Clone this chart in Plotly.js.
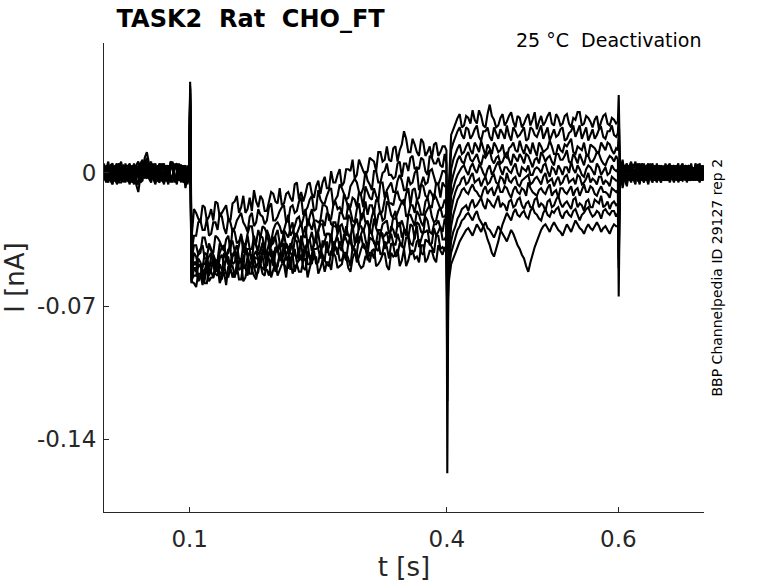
<!DOCTYPE html>
<html>
<head>
<meta charset="utf-8">
<script src="https://cdn.plot.ly/plotly-3.0.1.min.js"></script>
<style>
  html, body { margin: 0; padding: 0; background: #fff; }
  #chart { width: 778px; height: 583px; }
</style>
</head>
<body>
<div id="chart"></div>
<script>
// sample times [s]: 2.5 ms grid plus extra samples around the steps at 0.1, 0.4 and 0.6 s
const tSec = [
  0,0.0025,0.005,0.0075,0.01,0.0125,0.015,0.0175,0.02,0.0225,0.025,0.0275,0.03,0.0325,0.035,0.0375,0.04,0.0425,0.045,0.0475,
  0.05,0.0525,0.055,0.0575,0.06,0.0625,0.065,0.0675,0.07,0.0725,0.075,0.0775,0.08,0.0825,0.085,0.0875,0.09,0.0925,0.095,0.0975,
  0.0995,0.1005,0.102,
  0.105,0.1075,0.11,0.1125,0.115,0.1175,0.12,0.1225,0.125,0.1275,0.13,0.1325,0.135,0.1375,0.14,0.1425,0.145,0.1475,0.15,0.1525,
  0.155,0.1575,0.16,0.1625,0.165,0.1675,0.17,0.1725,0.175,0.1775,0.18,0.1825,0.185,0.1875,0.19,0.1925,0.195,0.1975,0.2,0.2025,
  0.205,0.2075,0.21,0.2125,0.215,0.2175,0.22,0.2225,0.225,0.2275,0.23,0.2325,0.235,0.2375,0.24,0.2425,0.245,0.2475,0.25,0.2525,
  0.255,0.2575,0.26,0.2625,0.265,0.2675,0.27,0.2725,0.275,0.2775,0.28,0.2825,0.285,0.2875,0.29,0.2925,0.295,0.2975,0.3,0.3025,
  0.305,0.3075,0.31,0.3125,0.315,0.3175,0.32,0.3225,0.325,0.3275,0.33,0.3325,0.335,0.3375,0.34,0.3425,0.345,0.3475,0.35,0.3525,
  0.355,0.3575,0.36,0.3625,0.365,0.3675,0.37,0.3725,0.375,0.3775,0.38,0.3825,0.385,0.3875,0.39,0.3925,0.395,0.3975,
  0.3995,0.4005,0.402,
  0.405,0.4075,0.41,0.4125,0.415,0.4175,0.42,0.4225,0.425,0.4275,0.43,0.4325,0.435,0.4375,0.44,0.4425,0.445,0.4475,0.45,0.4525,
  0.455,0.4575,0.46,0.4625,0.465,0.4675,0.47,0.4725,0.475,0.4775,0.48,0.4825,0.485,0.4875,0.49,0.4925,0.495,0.4975,0.5,0.5025,
  0.505,0.5075,0.51,0.5125,0.515,0.5175,0.52,0.5225,0.525,0.5275,0.53,0.5325,0.535,0.5375,0.54,0.5425,0.545,0.5475,0.55,0.5525,
  0.555,0.5575,0.56,0.5625,0.565,0.5675,0.57,0.5725,0.575,0.5775,0.58,0.5825,0.585,0.5875,0.59,0.5925,0.595,0.5975,
  0.5995,0.6005,0.602,
  0.605,0.6075,0.61,0.6125,0.615,0.6175,0.62,0.6225,0.625,0.6275,0.63,0.6325,0.635,0.6375,0.64,0.6425,0.645,0.6475,0.65,0.6525,
  0.655,0.6575,0.66,0.6625,0.665,0.6675,0.67,0.6725,0.675,0.6775,0.68,0.6825,0.685,0.6875,0.69,0.6925,0.695,0.6975,0.7
];

// current sweeps [pA] (plotted in nA)
const sweep1 = [
  3,-3,-2,2,4,-2,-4,3,1,-4,5,1,-3,4,2,-4,-5,3,6,4,
  8,2,-1,4,3,-3,-4,2,5,-3,-2,4,4,-4,-3,3,2,-5,-4,2,
  1,48,-35,
  -19,-21,-24,-26,-17,-18,-25,-23,-19,-25,-15,-16,-23,-21,-19,-17,-24,-25,-16,-15,
  -12,-21,-18,-12,-21,-19,-13,-20,-9,-15,-18,-12,-14,-20,-20,-15,-10,-11,-15,-16,
  -8,-17,-16,-11,-10,-13,-15,-6,-5,-14,-10,-15,-11,-6,-5,-11,-13,-7,-4,-11,
  -5,-2,-8,-8,1,-5,-5,-1,2,-7,-5,2,2,1,7,-3,-1,7,4,1,
  -1,1,8,7,6,1,11,11,6,7,14,7,6,13,14,6,12,15,22,18,
  11,11,18,15,11,9,18,16,9,11,14,8,15,16,9,11,14,14,
  12,-60,-10,
  20,23,26,29,31,24,25,30,29,26,33,28,26,33,30,25,24,31,36,30,
  28,24,25,29,31,25,27,30,32,27,24,30,29,24,26,29,31,25,28,32,
  23,27,30,25,27,30,32,26,25,31,29,25,26,30,31,26,24,29,28,32,
  32,25,26,30,29,27,24,28,30,23,27,30,31,26,25,29,28,26,
  27,41,4,
  6,1,-4,4,3,-3,-6,5,2,-4,5,-1,-2,3,4,-4,-3,4,1,-3,
  5,1,-4,3,2,-4,-2,2,4,-2,-3,4,1,-3,4,2,-2,-4,3
];
const sweep2 = [
  -2,3,4,-4,-5,0,2,-3,-1,4,3,-2,-6,1,4,-4,1,5,7,2,
  -2,3,5,-2,-3,4,2,-4,-5,2,4,-3,-1,4,5,-2,-4,3,1,-5,
  -2,44,-42,
  -33,-33,-26,-25,-30,-30,-24,-33,-32,-26,-26,-30,-21,-23,-29,-32,-24,-26,-31,-29,
  -25,-23,-21,-26,-28,-31,-23,-21,-28,-26,-19,-22,-23,-27,-25,-18,-16,-25,-25,-23,
  -20,-18,-17,-26,-25,-18,-17,-21,-20,-15,-13,-22,-20,-18,-14,-12,-20,-19,-9,-14,
  -16,-16,-12,-9,-8,-17,-14,-12,-6,-8,-11,-14,-13,-7,-5,-3,-5,-10,-11,-8,
  1,-4,-6,-9,1,1,-5,-5,0,1,5,-1,-1,-3,-2,5,6,-2,5,5,
  1,8,9,2,3,2,8,7,1,-1,9,8,5,5,8,4,3,10,
  5,-70,-15,
  12,16,19,22,24,20,18,24,23,18,20,23,25,19,17,22,22,24,19,17,
  24,21,18,23,21,18,25,20,17,24,22,19,20,22,24,17,18,24,23,20,
  19,22,25,18,21,24,17,20,23,19,20,23,24,17,18,21,22,25,19,22,
  25,18,21,24,17,20,23,18,20,23,24,19,18,22,22,25,20,19,
  21,30,2,
  -5,2,3,-4,-2,4,5,-2,-4,3,1,-4,4,-2,-3,4,2,-3,-5,2,
  3,-4,1,4,-3,2,5,-3,-1,4,2,-3,-4,2,3,-4,0,3,-3
];
const sweep3 = [
  1,-3,-5,2,3,-4,0,5,-4,2,4,-3,2,-5,-3,4,6,1,-1,8,
  11,5,3,-2,-4,3,4,-3,1,-4,-3,6,5,-2,-5,2,3,-3,-2,4,
  2,40,-46,
  -38,-38,-43,-42,-34,-34,-39,-39,-41,-42,-33,-34,-36,-39,-41,-35,-33,-41,-29,-31,
  -37,-36,-33,-37,-38,-32,-28,-28,-36,-37,-30,-34,-28,-29,-32,-37,-36,-30,-27,-26,
  -28,-32,-30,-26,-22,-33,-31,-28,-24,-23,-28,-24,-19,-28,-23,-19,-25,-25,-26,-25,
  -17,-17,-18,-25,-24,-17,-15,-19,-18,-21,-11,-14,-19,-18,-13,-14,-18,-10,-12,-18,
  -7,-10,-13,-14,-8,-12,-15,-5,-5,-13,-9,-7,-5,-10,-10,-4,-1,-4,-9,-9,
  -2,-6,-5,0,2,-9,-6,-2,-6,-5,1,2,-2,-6,-6,-3,1,1,
  -1,-158,-30,
  2,7,10,13,15,10,11,14,16,12,10,16,14,11,17,13,9,15,13,10,
  16,14,11,12,15,9,8,13,14,16,12,11,17,13,10,15,13,10,16,12,
  9,16,14,11,12,13,17,14,10,10,15,12,11,15,14,16,18,11,10,14,
  13,12,16,10,9,15,14,13,11,11,16,14,12,16,15,12,10,13,
  12,22,-1,
  2,-3,-7,2,4,-4,0,3,-3,5,3,-2,-5,3,1,-4,5,-3,-2,4,
  -1,-3,4,-2,-4,3,2,-4,1,4,-5,-1,3,2,-1,-4,4,3,-2
];
const sweep4 = [
  -4,3,2,-3,0,4,-6,-2,4,-5,-2,4,3,-4,1,-6,-10,-2,5,0,
  2,-3,-5,1,4,-4,-2,5,3,-2,-6,3,2,-5,1,5,-3,2,4,-3,
  -1,46,-50,
  -48,-48,-42,-40,-38,-45,-45,-37,-40,-43,-46,-46,-37,-39,-39,-43,-42,-36,-36,-41,
  -43,-38,-32,-42,-39,-33,-40,-40,-33,-38,-41,-33,-34,-41,-30,-33,-38,-37,-33,-30,
  -37,-39,-30,-32,-34,-29,-26,-35,-32,-29,-26,-33,-34,-24,-27,-30,-25,-32,-31,-25,
  -25,-28,-21,-22,-27,-28,-28,-29,-21,-21,-24,-24,-16,-20,-25,-26,-19,-16,-25,-22,
  -15,-22,-17,-17,-21,-14,-15,-22,-20,-14,-10,-16,-16,-17,-11,-10,-14,-15,-17,-11,
  -8,-17,-9,-8,-14,-13,-6,-7,-12,-13,-9,-11,-14,-5,-6,-13,-5,-7,
  -7,-90,-32,
  -6,-1,3,7,9,6,5,9,11,7,6,8,10,6,4,9,8,10,12,7,
  5,8,9,5,6,9,11,7,4,10,8,6,10,8,5,10,9,6,3,7,
  8,5,11,9,6,8,9,6,4,10,10,7,7,9,12,6,5,10,8,5,
  10,7,4,9,9,6,6,8,11,10,7,5,4,7,9,8,6,9,
  7,-20,3,
  -8,-2,4,-3,-1,4,3,-2,-6,3,2,-4,0,5,-4,-1,3,-3,4,2,
  -3,-4,2,4,-2,3,-4,-2,3,-4,1,4,-2,-3,5,2,-3,4,1
];
const sweep5 = [
  5,-4,-1,3,-3,2,3,-5,-5,3,1,-3,4,-2,-6,2,3,-4,0,5,
  7,-1,2,4,-2,3,5,-3,-4,4,2,-5,-2,3,4,-2,-5,4,0,-6,
  3,35,-52,
  -42,-44,-49,-49,-50,-42,-43,-51,-44,-44,-50,-48,-42,-39,-38,-45,-46,-47,-43,-41,
  -38,-45,-46,-38,-40,-44,-42,-46,-36,-38,-43,-41,-37,-38,-44,-43,-38,-34,-34,-41,
  -39,-36,-32,-39,-40,-41,-35,-32,-32,-36,-38,-32,-28,-38,-35,-31,-37,-36,-30,-27,
  -27,-33,-32,-32,-35,-26,-26,-32,-28,-27,-31,-33,-22,-24,-30,-27,-24,-30,-22,-21,
  -26,-26,-29,-23,-19,-28,-22,-20,-25,-24,-15,-17,-22,-24,-24,-21,-18,-15,-14,-23,
  -22,-17,-17,-21,-14,-17,-22,-22,-15,-13,-18,-18,-11,-13,-16,-19,-18,-14,
  -16,-65,-35,
  -12,-8,-4,-1,1,3,4,1,-1,3,5,2,0,4,3,0,-2,2,4,-1,
  1,4,6,2,-1,3,3,1,0,3,5,0,-2,3,2,1,4,-1,-1,2,
  3,2,0,4,5,1,-2,3,2,-1,4,2,-1,3,3,0,6,2,0,4,
  2,-1,-2,2,4,3,1,-1,5,3,-1,1,3,-1,0,4,2,1,
  2,-30,-2,
  4,-4,-2,3,6,-2,-3,3,1,-3,-5,2,3,-3,2,-3,-4,2,3,-4,
  -2,3,5,-3,0,4,-3,3,2,-3,-4,3,4,-4,-1,4,2,-2,-4
];
const sweep6 = [
  0,-5,3,-2,-4,3,5,-3,2,-4,-4,4,1,-3,5,-2,-2,5,4,-1,
  -3,4,6,-3,1,-4,-5,4,2,-3,4,-2,-4,5,1,-4,3,-2,-6,2,
  -3,42,-54,
  -50,-52,-45,-47,-51,-52,-46,-44,-42,-48,-51,-52,-45,-43,-48,-46,-40,-41,-48,-47,
  -42,-51,-50,-44,-42,-40,-40,-47,-44,-50,-47,-41,-37,-43,-42,-37,-44,-45,-39,-40,
  -37,-46,-42,-37,-39,-42,-44,-35,-36,-45,-33,-38,-41,-36,-35,-41,-38,-32,-32,-39,
  -39,-36,-32,-32,-33,-39,-36,-32,-28,-37,-35,-28,-33,-34,-27,-37,-36,-28,-28,-31,
  -27,-25,-31,-32,-24,-29,-32,-32,-27,-26,-25,-32,-30,-23,-20,-28,-28,-25,-29,-33,
  -22,-22,-25,-28,-20,-22,-26,-28,-21,-19,-17,-23,-26,-25,-20,-18,-23,-23,
  -21,-120,-40,
  -20,-14,-10,-7,-6,-3,-2,-6,-5,-2,0,-5,-4,-3,-7,-4,-2,-6,-5,-2,
  -1,-5,-6,-2,-3,-6,0,-4,-5,-3,-2,-6,-7,-4,-3,-2,-1,-6,-5,-3,
  -2,-4,-6,-2,0,-5,-4,-3,-7,-4,-2,-6,-5,-2,-1,-5,-4,-3,-6,-1,
  -2,-6,-5,-3,0,-5,-3,-4,-6,-2,-2,-6,-4,-5,-7,-2,-3,-4,
  -4,-45,1,
  -3,3,5,-2,-5,1,2,-3,4,-4,-2,3,-4,2,5,-3,-1,4,2,-3,
  -4,3,0,-3,4,-1,-2,4,-3,2,4,-4,-1,3,-3,4,3,-3,2
];
const sweep7 = [
  -3,2,6,-3,1,-4,-2,5,3,-2,-5,2,4,-3,-1,4,2,-5,-4,5,
  6,-2,4,-3,-6,3,1,-4,4,-3,-1,5,3,-2,-6,3,4,-3,2,-5,
  0,38,-52,
  -47,-47,-55,-54,-48,-48,-45,-54,-51,-45,-46,-50,-52,-54,-42,-45,-48,-50,-44,-42,
  -49,-47,-45,-50,-39,-42,-49,-47,-43,-41,-46,-49,-40,-44,-49,-42,-40,-49,-42,-40,
  -46,-44,-37,-46,-44,-37,-39,-43,-45,-40,-37,-46,-39,-37,-45,-43,-36,-35,-40,-45,
  -36,-36,-42,-39,-32,-41,-36,-34,-39,-41,-32,-35,-38,-32,-40,-38,-32,-37,-32,-29,
  -35,-40,-29,-32,-37,-37,-30,-30,-34,-33,-31,-37,-28,-30,-34,-27,-26,-34,-31,-31,
  -34,-27,-28,-35,-26,-27,-31,-32,-23,-25,-31,-32,-27,-27,-25,-29,-31,-24,
  -28,-72,-45,
  -28,-22,-18,-14,-12,-9,-8,-10,-11,-8,-6,-9,-10,-12,-13,-9,-7,-11,-9,-8,
  -12,-9,-6,-10,-10,-7,-8,-11,-13,-9,-7,-10,-11,-8,-9,-12,-5,-8,-10,-11,
  -12,-9,-8,-10,-11,-8,-6,-12,-10,-9,-13,-8,-8,-10,-11,-9,-7,-12,-9,-8,
  -12,-9,-6,-10,-10,-7,-8,-11,-12,-9,-7,-10,-10,-11,-13,-8,-9,-10,
  -9,-65,-4,
  7,-2,-6,4,1,-4,-2,3,5,-1,-3,4,2,-3,-5,3,0,-4,4,-1,
  -3,4,3,-2,-5,2,3,-4,-2,4,2,-3,5,-2,-4,3,1,-4,-1
];
const sweep8 = [
  2,-3,-4,4,5,-3,1,-4,-3,3,2,-4,-5,2,3,-2,4,-4,-2,3,
  5,-2,-3,4,2,-4,5,-2,-6,3,1,-4,-3,4,3,-3,0,4,-5,3,
  2,30,-56,
  -54,-54,-49,-48,-56,-56,-50,-50,-47,-48,-53,-54,-48,-51,-51,-45,-44,-52,-53,-55,
  -48,-47,-46,-50,-50,-44,-53,-53,-44,-45,-45,-49,-50,-51,-41,-46,-47,-41,-50,-49,
  -43,-47,-47,-43,-40,-51,-43,-40,-47,-46,-45,-41,-39,-48,-48,-44,-40,-40,-39,-38,
  -46,-46,-36,-43,-43,-36,-39,-43,-36,-39,-43,-46,-37,-36,-40,-41,-42,-34,-33,-39,
  -40,-43,-34,-35,-36,-40,-41,-31,-32,-40,-37,-35,-32,-37,-38,-32,-36,-39,-30,-30,
  -33,-37,-38,-33,-28,-39,-35,-31,-31,-30,-38,-37,-29,-33,-31,-28,-35,-35,
  -33,-80,-50,
  -36,-31,-28,-24,-22,-19,-18,-17,-20,-16,-14,-18,-17,-15,-13,-17,-19,-14,-15,-17,
  -18,-15,-12,-18,-16,-17,-20,-15,-14,-18,-17,-14,-13,-17,-19,-16,-15,-18,-18,-14,
  -13,-18,-16,-17,-20,-15,-14,-18,-17,-14,-12,-16,-18,-16,-15,-17,-19,-14,-13,-18,
  -16,-17,-20,-15,-14,-18,-18,-14,-15,-16,-12,-18,-17,-15,-19,-16,-15,-17,
  -16,-35,2,
  -2,4,2,-3,-4,2,6,-2,-1,4,3,-2,-6,3,2,-3,4,-1,-4,3,
  1,-4,-2,3,4,-3,-1,3,5,-1,-3,2,-2,-4,2,-2,-5,2,4
];
const sweep9 = [
  -1,4,1,-4,-6,2,4,-3,2,-4,-3,3,5,-3,-4,3,-1,5,3,-2,
  4,-3,1,5,-5,2,3,-4,0,4,-4,2,6,-3,-2,4,4,-4,-3,2,
  -2,45,-58,
  -50,-50,-57,-55,-51,-58,-58,-50,-52,-55,-47,-47,-54,-56,-49,-53,-55,-49,-49,-54,
  -52,-47,-47,-57,-55,-49,-47,-47,-49,-54,-52,-44,-44,-51,-51,-54,-46,-45,-52,-49,
  -42,-44,-48,-50,-50,-45,-43,-52,-48,-45,-43,-50,-51,-41,-45,-48,-41,-48,-47,-41,
  -43,-46,-48,-49,-41,-42,-39,-40,-46,-46,-42,-42,-45,-49,-39,-40,-47,-44,-40,-37,
  -39,-46,-42,-42,-45,-38,-36,-43,-42,-36,-39,-45,-37,-38,-44,-43,-37,-38,-40,-34,
  -34,-43,-42,-41,-36,-35,-42,-43,-35,-36,-37,-39,-42,-33,-33,-40,-39,-41,
  -38,-62,-52,
  -42,-38,-34,-30,-28,-25,-24,-22,-21,-23,-25,-22,-20,-24,-26,-28,-31,-35,-38,-42,
  -44,-40,-36,-31,-27,-24,-21,-23,-25,-21,-19,-22,-23,-21,-20,-23,-24,-20,-18,-21,
  -22,-24,-25,-21,-19,-22,-23,-20,-21,-19,-18,-22,-24,-21,-20,-22,-23,-20,-19,-22,
  -25,-22,-21,-19,-18,-21,-23,-22,-20,-21,-24,-20,-19,-21,-22,-20,-20,-23,
  -21,-50,-3,
  3,-2,-5,3,2,-3,-4,4,3,-3,0,3,5,-1,-2,3,-4,-2,3,-3,
  4,2,-5,-2,1,3,4,-3,-4,-1,3,4,-3,-2,1,4,3,-4,-2
];
const sweep10 = [
  4,-2,-3,4,2,-4,-5,3,6,-3,0,4,-2,3,4,-5,-6,3,2,-3,
  6,2,-4,3,5,-2,-3,4,2,-4,3,-3,-5,4,2,-4,-1,3,-8,-2,
  1,36,-57,
  -58,-60,-53,-53,-59,-51,-49,-57,-55,-55,-51,-49,-58,-55,-52,-59,-49,-50,-55,-53,
  -49,-56,-56,-48,-50,-54,-47,-51,-54,-56,-50,-48,-53,-54,-46,-45,-55,-51,-47,-54,
  -51,-48,-48,-55,-44,-45,-53,-50,-48,-52,-52,-46,-45,-55,-50,-46,-45,-44,-53,-50,
  -46,-52,-47,-47,-51,-42,-44,-50,-49,-48,-42,-44,-50,-52,-45,-42,-42,-48,-50,-49,
  -44,-44,-47,-41,-40,-49,-48,-46,-43,-42,-49,-51,-42,-44,-43,-40,-49,-46,-40,-49,
  -46,-41,-41,-45,-44,-47,-38,-38,-47,-45,-41,-41,-45,-47,-38,-41,-43,-39,
  -41,-75,-58,
  -48,-45,-42,-39,-36,-34,-32,-30,-29,-31,-33,-30,-27,-29,-31,-28,-26,-29,-30,-32,
  -34,-31,-28,-30,-32,-34,-36,-33,-30,-32,-35,-38,-40,-43,-45,-49,-52,-47,-43,-39,
  -36,-33,-30,-28,-27,-29,-31,-28,-26,-28,-30,-31,-33,-30,-27,-29,-31,-28,-25,-27,
  -29,-30,-32,-29,-27,-29,-30,-28,-26,-28,-31,-29,-28,-30,-32,-29,-27,-28,
  -28,-25,0,
  -6,3,1,-3,5,2,-1,-4,-4,3,4,-3,-1,4,3,-2,-5,3,1,-4,
  -2,2,3,-3,-1,4,-5,-2,2,3,-1,-4,3,2,-4,3,5,-3,0
];

const xTicks = [0.1, 0.4, 0.6];
const yTicks = [-0.14, -0.07, 0];

const sweeps = [sweep1, sweep2, sweep3, sweep4, sweep5, sweep6, sweep7, sweep8, sweep9, sweep10];
sweeps.forEach((s, i) => {
  if (s.length !== tSec.length) console.warn('sweep' + (i + 1) + ' has ' + s.length + ' samples, expected ' + tSec.length);
});

const traces = sweeps.map((s, i) => ({
  x: tSec,
  y: s.map(v => v / 1000),   // pA -> nA
  type: 'scatter',
  mode: 'lines',
  name: 'sweep ' + (i + 1),
  line: { color: '#000000', width: 2.1, simplify: false },
  hoverinfo: 'skip',
}));

const font = 'DejaVu Sans, sans-serif';
const axisColor = '#262626';

const layout = {
  width: 778,
  height: 583,
  margin: { l: 104, r: 74, t: 43, b: 71 },
  paper_bgcolor: '#ffffff',
  plot_bgcolor: '#ffffff',
  showlegend: false,
  font: { family: font, color: axisColor },
  title: {
    text: 'TASK2\u00a0 Rat\u00a0 CHO_FT',
    font: { family: font, size: 24, color: '#000000', weight: 'bold' },
    xref: 'paper', x: 0.021, xanchor: 'left',
    yref: 'container', y: 0.968, yanchor: 'middle',
  },
  xaxis: {
    range: [0, 0.7],
    tickvals: xTicks,
    ticktext: xTicks.map(String),
    ticks: 'inside',
    ticklen: 5,
    tickcolor: axisColor,
    tickfont: { family: font, size: 23, color: axisColor },
    ticklabelstandoff: 6,
    showline: true,
    linecolor: axisColor,
    linewidth: 1,
    showgrid: false,
    zeroline: false,
    title: { text: 't [s]', font: { family: font, size: 26, color: axisColor }, standoff: 6 },
  },
  yaxis: {
    range: [-0.1784, 0.0684],
    tickvals: yTicks,
    ticktext: yTicks.map(String),
    ticks: 'inside',
    ticklen: 5,
    tickcolor: axisColor,
    tickfont: { family: font, size: 23, color: axisColor },
    ticklabelstandoff: 2,
    showline: true,
    linecolor: axisColor,
    linewidth: 1,
    showgrid: false,
    zeroline: false,
    title: { text: 'I [nA]', font: { family: font, size: 26, color: axisColor }, standoff: 4 },
  },
  annotations: [
    {
      text: '25 °C\u00a0 Deactivation',
      xref: 'paper', x: 0.998, xanchor: 'right',
      yref: 'paper', y: 1.006, yanchor: 'middle',
      showarrow: false,
      font: { family: font, size: 19, color: '#000000' },
    },
    {
      text: 'BBP Channelpedia ID 29127 rep 2',
      xref: 'paper', x: 1.02, xanchor: 'center',
      yref: 'paper', y: 0.5, yanchor: 'middle',
      textangle: -90,
      showarrow: false,
      font: { family: font, size: 14, color: '#000000' },
    },
  ],
};

Plotly.newPlot('chart', traces, layout, { displayModeBar: false, staticPlot: true });
</script>
</body>
</html>
